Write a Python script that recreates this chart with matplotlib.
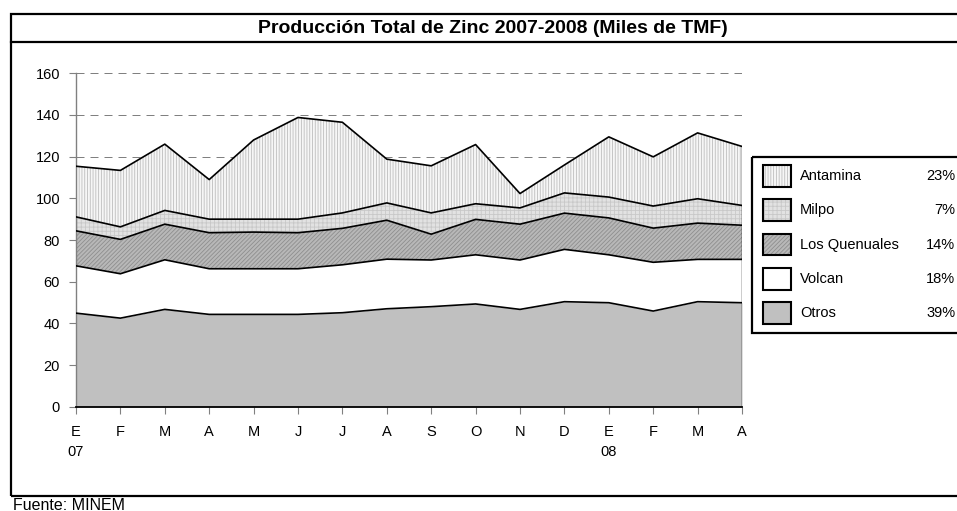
import matplotlib
matplotlib.use("Agg")
import matplotlib.pyplot as plt
import numpy as np
from matplotlib.patches import Rectangle
from matplotlib.lines import Line2D

plt.rcParams['font.family'] = ['Liberation Sans', 'DejaVu Sans']
plt.rcParams['hatch.linewidth'] = 0.6

# ---------------- data ----------------
months = ['E', 'F', 'M', 'A', 'M', 'J', 'J', 'A', 'S', 'O', 'N', 'D', 'E', 'F', 'M', 'A']
years = ['07', '', '', '', '', '', '', '', '', '', '', '', '08', '', '', '']

otros = [44.9, 42.5, 46.7, 44.3, 44.3, 44.3, 45.1, 47.0, 48.0, 49.3, 46.7, 50.4, 49.9, 45.9, 50.4, 49.9]
volcan = [22.7, 21.3, 23.8, 21.9, 21.9, 21.9, 23.0, 23.8, 22.4, 23.6, 23.7, 25.1, 23.0, 23.4, 20.3, 20.8]
quenuales = [16.8, 16.5, 17.1, 17.3, 17.6, 17.3, 17.5, 18.7, 12.4, 17.0, 17.2, 17.4, 17.7, 16.4, 17.4, 16.4]
milpo = [6.7, 6.0, 6.6, 6.5, 6.2, 6.5, 7.4, 8.3, 10.2, 7.5, 7.8, 9.7, 10.0, 10.6, 11.7, 9.5]
antamina = [24.3, 27.1, 31.8, 19.0, 38.0, 48.8, 43.5, 21.0, 22.6, 28.4, 6.9, 13.4, 28.9, 23.6, 31.6, 28.3]

series_names = ['Otros', 'Volcan', 'Los Quenuales', 'Milpo', 'Antamina']
series_values = [otros, volcan, quenuales, milpo, antamina]
shares = ['39%', '18%', '14%', '7%', '23%']

yticks = [0, 20, 40, 60, 80, 100, 120, 140, 160]
title = 'Producción Total de Zinc 2007-2008 (Miles de TMF)'
source = 'Fuente: MINEM'

# ---------------- styles ----------------
styles = {
    'Otros': dict(face='#c0c0c0', hatch=None, hcol='#c0c0c0'),
    'Volcan': dict(face='#ffffff', hatch=None, hcol='#ffffff'),
    'Los Quenuales': dict(face='#b8b8b8', hatch='////////', hcol='#8e8e8e'),
    'Milpo': dict(face='#e2e2e2', hatch='++++', hcol='#c8c8c8'),
    'Antamina': dict(face='#f6f6f6', hatch='||||||', hcol='#bdbdbd'),
}

W, H = 957, 511
fig = plt.figure(figsize=(W / 100, H / 100), dpi=100)


def fx(x):
    return x / W


def fy(y):
    return 1 - y / H


# outer frame
fig.add_artist(Rectangle((fx(11), fy(496)), fx(1100) - fx(11), (496 - 14) / H,
                         transform=fig.transFigure, fill=False, lw=1.6,
                         edgecolor='black', clip_on=False))
fig.add_artist(Line2D([fx(11), 1.0], [fy(42), fy(42)], transform=fig.transFigure,
                      color='black', lw=1.6))
fig.text(fx(493), fy(28.5), title, ha='center', va='center', fontsize=14,
         fontweight='bold')
fig.text(fx(13), fy(497.5), source, ha='left', va='top', fontsize=11.5)

# main axes
ax = fig.add_axes([fx(76), fy(406.7), (742 - 76) / W, (406.7 - 73.3) / H])
x = np.arange(len(months))
bottom = np.zeros(len(months))
for name, vals in zip(series_names, series_values):
    st = styles[name]
    top = bottom + np.array(vals)
    ax.fill_between(x, bottom, top, facecolor=st['face'], hatch=st['hatch'],
                    edgecolor=st['hcol'], linewidth=0, zorder=2)
    ax.plot(x, top, color='black', lw=1.2, zorder=3)
    bottom = top
ax.plot([x[-1], x[-1]], [0, bottom[-1]], color='black', lw=1.0, zorder=3)

ax.set_xlim(0, len(months) - 1)
ax.set_ylim(0, 160)
ax.set_yticks(yticks)
ax.set_yticklabels([str(v) for v in yticks])
ax.set_xticks(x)
ax.set_xticklabels([m + ('\n' + yv if yv else '') for m, yv in zip(months, years)],
                   linespacing=1.55, va='top')
ax.yaxis.grid(True, color='#808080', lw=0.72, linestyle=(0, (8, 6)), zorder=0)
ax.set_axisbelow(True)
for s in ['top', 'right']:
    ax.spines[s].set_visible(False)
ax.spines['left'].set_color('#808080')
ax.spines['left'].set_linewidth(1.0)
ax.spines['bottom'].set_color('black')
ax.spines['bottom'].set_linewidth(1.3)
ax.spines['bottom'].set_zorder(4)
ax.tick_params(axis='y', length=5, width=0.8, color='#808080', pad=6.5, labelsize=10.5)
ax.tick_params(axis='x', length=5, width=0.8, color='#808080', pad=8, labelsize=10.5)
ax.set_facecolor('none')

# legend (drawn manually)
lax = fig.add_axes([fx(751.7), fy(332.7), (1000 - 751.7) / W, (332.7 - 157) / H])
lax.set_xlim(751.7, 1000)
lax.set_ylim(332.7, 157)
lax.axis('off')
lax.add_patch(Rectangle((751.7, 157), 400, 175.7, fill=False, lw=1.6,
                        edgecolor='black', clip_on=False))
order = list(range(len(series_names)))[::-1]
for i, k in enumerate(order):
    name = series_names[k]
    st = styles[name]
    y0 = 165 + 34.3 * i
    lax.add_patch(Rectangle((763, y0), 28, 21.7, facecolor=st['face'],
                            hatch=st['hatch'], edgecolor=st['hcol'], lw=0, clip_on=False))
    lax.add_patch(Rectangle((763, y0), 28, 21.7, fill=False, edgecolor='black',
                            lw=1.5, clip_on=False))
    lax.text(800, y0 + 11, name, ha='left', va='center', fontsize=10.5)
    lax.text(955.5, y0 + 11, shares[k], ha='right', va='center', fontsize=10.5)

fig.savefig('out.png', dpi=100)
